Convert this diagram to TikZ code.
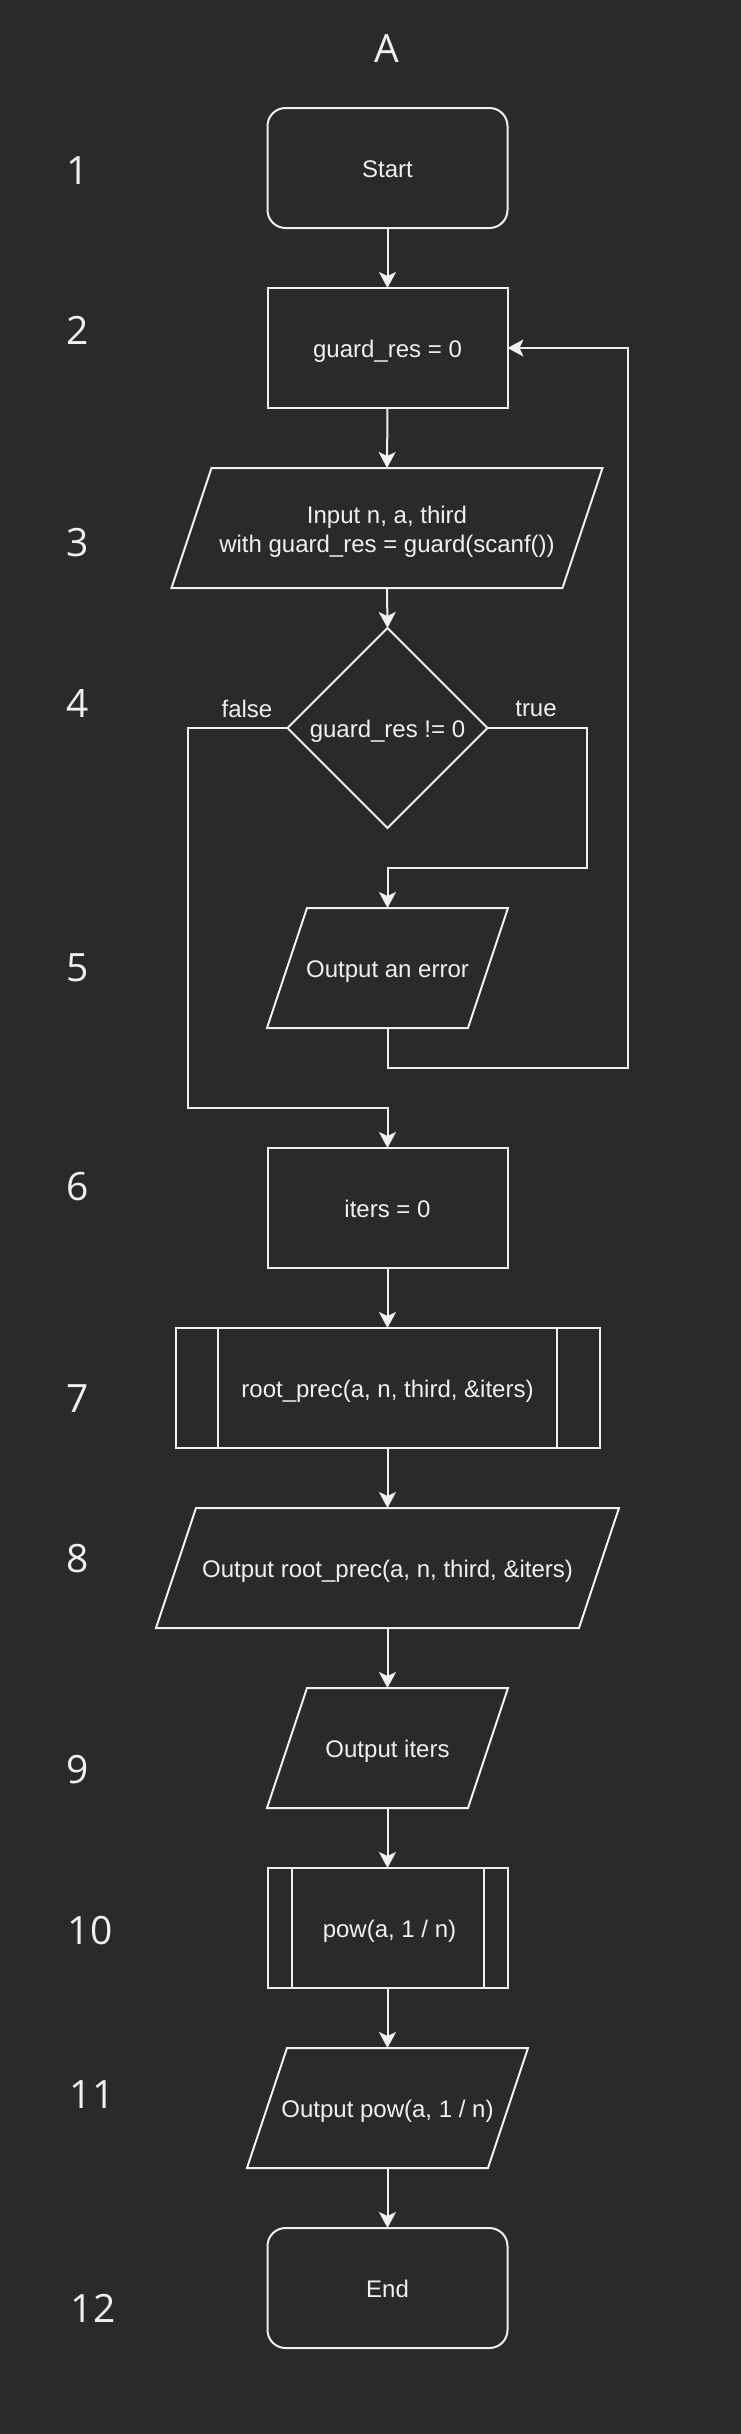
\documentclass[tikz,border=0pt]{standalone}
\usepackage{fontspec}
\setmainfont{Liberation Sans}
\newfontfamily\numfont{Open Sans}
\usetikzlibrary{arrows.meta}
\definecolor{bgc}{HTML}{2A2A2A}
\definecolor{fgc}{HTML}{F0F0F0}
\tikzset{
  ln/.style={draw=fgc, line width=2pt, line join=miter},
  txt/.style={text=fgc, font=\fontsize{24}{29}\selectfont, inner sep=0pt, outer sep=0pt, align=center},
  onel/.style={text height=23pt, text depth=5pt},
  boxnode/.style={txt, onel, ln, rectangle, minimum width=240pt, minimum height=120pt},
  termnode/.style={boxnode, rounded corners=18pt},
  hidnode/.style={txt, rectangle, minimum height=120pt},
  dianode/.style={txt, onel, minimum width=200pt, minimum height=200pt},
  numlbl/.style={text=fgc, font=\numfont\fontsize{39}{44}\selectfont, inner sep=0pt},
  edgelbl/.style={text=fgc, font=\fontsize{24}{29}\selectfont, inner sep=0pt},
  arr/.style={ln, -{Stealth[length=16pt, width=17pt, inset=4pt]}}
}
\newcommand{\paral}[6][onel]{%
  \node[hidnode, #1, minimum width=#5] (#2) at (#3,#4) {#6};
  \draw[ln] ([xshift=40pt]#2.north west) -- (#2.north east) -- ([xshift=-40pt]#2.south east) -- (#2.south west) -- cycle;}
\newcommand{\subproc}[5]{%
  \node[boxnode, minimum width=#4] (#1) at (#2,#3) {#5};
  \draw[ln] ([xshift=0.1*#4]#1.north west) -- ([xshift=0.1*#4]#1.south west);
  \draw[ln] ([xshift=-0.1*#4]#1.north east) -- ([xshift=-0.1*#4]#1.south east);}
\begin{document}
\begin{tikzpicture}[x=1pt, y=-1pt]
\fill[bgc] (0,0) rectangle (741,2434);
\useasboundingbox (0,0) rectangle (741,2434);

\node[numlbl] (title) at (387,49) {A};

\node[numlbl] (n1) at (78,171) {1};
\node[numlbl] (n2) at (78,330) {2};
\node[numlbl] (n3) at (78,543) {3};
\node[numlbl] (n4) at (78,703) {4};
\node[numlbl] (n5) at (78,968) {5};
\node[numlbl] (n6) at (78,1187) {6};
\node[numlbl] (n7) at (78,1399) {7};
\node[numlbl] (n8) at (78,1559) {8};
\node[numlbl] (n9) at (78,1770) {9};
\node[numlbl] (n10) at (90,1931) {10};
\node[numlbl] (n11) at (92,2095) {11};
\node[numlbl] (n12) at (93,2308) {12};

\node[termnode] (start) at (387.5,168) {Start};
\node[boxnode] (guard) at (387.5,348) {guard\_res = 0};
\paral[]{input}{387}{528}{431pt}{\raisebox{-4pt}[\height][\depth]{\begin{tabular}{@{}c@{}}Input n, a, third\\with guard\_res = guard(scanf())\end{tabular}}}
\node[dianode] (dia) at (387.5,728) {guard\_res != 0};
\draw[ln] (dia.north) -- (dia.east) -- (dia.south) -- (dia.west) -- cycle;
\paral{err}{387.5}{968}{241pt}{Output an error}
\node[boxnode] (iters) at (387.5,1208) {iters = 0};
\subproc{root}{387.5}{1388}{424pt}{root\_prec(a, n, third, \&iters)}
\paral{outroot}{387.5}{1568}{463pt}{Output root\_prec(a, n, third, \&iters)}
\paral{outiters}{387.5}{1748}{241pt}{Output iters}
\subproc{pow}{387.5}{1928}{240pt}{\hspace*{4pt}pow(a, 1 / n)}
\paral{outpow}{387.5}{2108}{281pt}{Output pow(a, 1 / n)}
\node[termnode] (end) at (387.5,2288) {End};

\coordinate (tc) at (587,868);
\coordinate (fc) at (188,1108);
\coordinate (lc) at (627.5,1068);

\draw[arr] (start.south) -- (guard.north);
\draw[arr] (guard.south) -- (input.north);
\draw[arr] (input.south) -- (dia.north);
\draw[arr] (dia.east) -| (tc) -| (err.north);
\draw[arr] (dia.west) -| (fc) -| (iters.north);
\draw[arr] (err.south) |- (lc) |- (guard.east);
\draw[arr] (iters.south) -- (root.north);
\draw[arr] (root.south) -- (outroot.north);
\draw[arr] (outroot.south) -- (outiters.north);
\draw[arr] (outiters.south) -- (pow.north);
\draw[arr] (pow.south) -- (outpow.north);
\draw[arr] (outpow.south) -- (end.north);

\node[edgelbl] (lfalse) at (247,708.5) {false};
\node[edgelbl] (ltrue) at (536,708.5) {true};
\end{tikzpicture}
\end{document}
